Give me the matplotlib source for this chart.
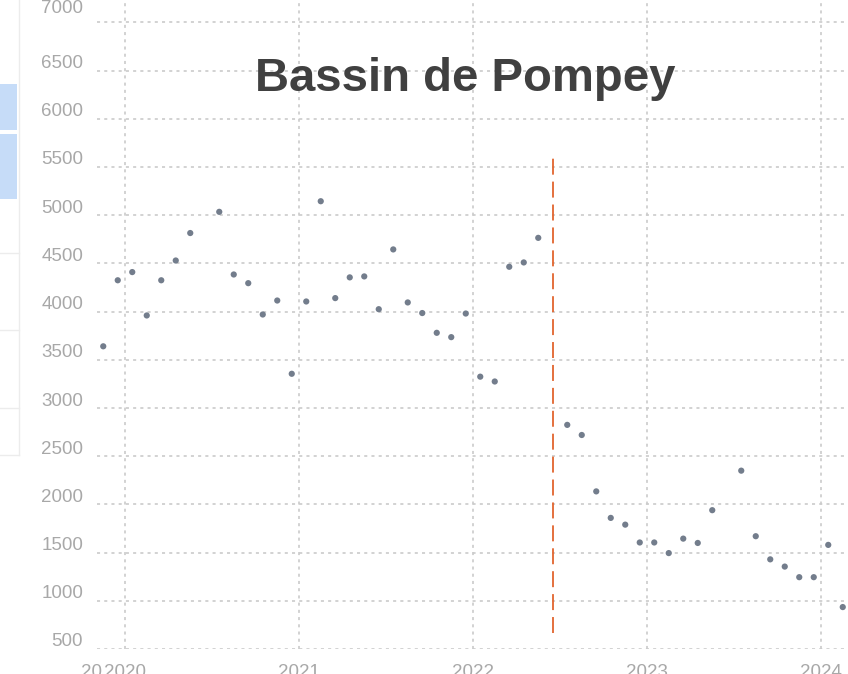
# Bassin de Pompey - nuage de points mensuel avec rupture en juin 2022
import numpy as np
import matplotlib
matplotlib.use("Agg")
import matplotlib.pyplot as plt
from matplotlib.transforms import ScaledTranslation
from matplotlib.patches import Rectangle
from matplotlib.lines import Line2D

plt.rcParams["font.family"] = ["Liberation Sans", "DejaVu Sans"]
plt.rcParams["lines.scale_dashes"] = False

# ------------------------------------------------------------
# Données : une valeur par mois
# ------------------------------------------------------------
mois = [
    "2019-11", "2019-12",
    "2020-01", "2020-02", "2020-03", "2020-04", "2020-05", "2020-06",
    "2020-07", "2020-08", "2020-09", "2020-10", "2020-11", "2020-12",
    "2021-01", "2021-02", "2021-03", "2021-04", "2021-05", "2021-06",
    "2021-07", "2021-08", "2021-09", "2021-10", "2021-11", "2021-12",
    "2022-01", "2022-02", "2022-03", "2022-04", "2022-05", "2022-06",
    "2022-07", "2022-08", "2022-09", "2022-10", "2022-11", "2022-12",
    "2023-01", "2023-02", "2023-03", "2023-04", "2023-05", "2023-06",
    "2023-07", "2023-08", "2023-09", "2023-10", "2023-11", "2023-12",
    "2024-01", "2024-02",
]
valeurs = [
    3640, 4325,
    4410, 3960, 4325, 4530, 4815, np.nan,
    5035, 4385, 4295, 3970, 4115, 3355,
    4105, 5145, 4140, 4355, 4365, 4025,
    4645, 4095, 3985, 3780, 3735, 3980,
    3325, 3275, 4465, 4510, 4765, np.nan,
    2825, 2720, 2135, 1860, 1790, 1605,
    1605, 1495, 1645, 1600, 1940, np.nan,
    2350, 1670, 1430, 1355, 1245, 1245,
    1580, 935,
]
mois_rupture = "2022-06"
rupture_bas, rupture_haut = 670, 5600

annees = [2020, 2021, 2022, 2023, 2024]
etiquettes_annees = ["2020", "2021", "2022", "2023", "2024"]
yticks = list(range(500, 7001, 500))
# bout d'étiquette coupé visible à gauche de "2020"
reste_etiquette, reste_position = "20", 2019.81


def en_annee(m):
    # "2021-03" -> milieu du mois en année décimale
    a, mm = m.split("-")
    return int(a) + (int(mm) - 0.5) / 12


x = np.array([en_annee(m) for m in mois])
y = np.array(valeurs, dtype=float)

# ------------------------------------------------------------
# Figure
# ------------------------------------------------------------
W, H = 848, 674
fig = plt.figure(figsize=(W / 100, H / 100), dpi=100)
ax = fig.add_axes([97 / W, 25 / H, 1 - 97 / W, 1 - 25 / H])

ax.scatter(x, y, s=20, color="#737d8c", edgecolors="none", zorder=3)
ax.vlines(en_annee(mois_rupture), rupture_bas, rupture_haut,
          color="#e2652e", linewidth=1.3, linestyle=(0, (11.5, 5)), zorder=2)

ax.set_yticks(yticks)
ax.set_xticks(annees)
ax.set_xticklabels(etiquettes_annees)
ax.set_xlim(2020 + (97 - 125) / 174, 2020 + (848 - 125) / 174)
ax.set_ylim(500, 500 + 649 / 0.0964)

gris = "#a8a8a8"
taille = 13.5
for s in ax.spines.values():
    s.set_visible(False)
ax.tick_params(which="both", length=0, labelsize=taille, labelcolor=gris)
ax.tick_params(axis="x", pad=11)
ax.tick_params(axis="y", pad=10)
decal = ScaledTranslation(0, 9 / 100, fig.dpi_scale_trans)
for lab in ax.get_yticklabels():
    lab.set_transform(lab.get_transform() + decal)
# l'étiquette du haut est rognée par le bord de la capture
haut = ax.get_yticklabels()[-1]
haut.set_transform(haut.get_transform() + ScaledTranslation(0, 7 / 100, fig.dpi_scale_trans))

ax.annotate(reste_etiquette, xy=(reste_position, 0), xycoords=("data", "axes fraction"),
            xytext=(0, -11), textcoords="offset points", ha="center", va="top",
            fontsize=taille, color=gris, annotation_clip=False)

ax.grid(True, which="major", color="#cbcbcb", linewidth=1.2,
        linestyle=(0, (2.2, 3)), zorder=0)
ax.set_axisbelow(True)

fig.text(465 / W, 1 - 91 / H, "Bassin de Pompey", ha="center", va="baseline",
         fontsize=34, fontweight="bold", color="#404040")

# restes du tableau à gauche de la capture
for y0, y1 in [(84, 130), (134, 199)]:
    fig.add_artist(Rectangle((0, 1 - y1 / H), 17 / W, (y1 - y0) / H,
                             transform=fig.transFigure, color="#c6dcf8", lw=0))
fig.add_artist(Line2D([19 / W, 19 / W], [1, 1 - 455 / H],
                      transform=fig.transFigure, color="#ececec", lw=1))
for yl in [253, 330, 408, 455]:
    fig.add_artist(Line2D([0, 19 / W], [1 - yl / H, 1 - yl / H],
                          transform=fig.transFigure, color="#ececec", lw=1))

fig.savefig("out.png", dpi=100)
